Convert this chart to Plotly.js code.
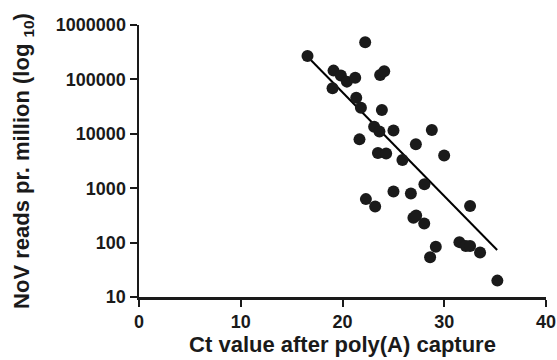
<!DOCTYPE html>
<html>
<head>
<meta charset="utf-8">
<script src="https://cdn.plot.ly/plotly-3.0.1.min.js"></script>
<style>html,body{margin:0;padding:0;background:#fff;}#chart{width:557px;height:360px;}</style>
</head>
<body>
<div id="chart"></div>
<script>
// Ct values after poly(A) capture
const ctValues = [16.56, 22.23, 19.12, 19.84, 20.43, 21.25, 19.02, 23.70, 24.10, 21.35,
  21.81, 23.87, 23.11, 23.63, 25.01, 21.67, 28.78, 27.21, 23.48, 24.29,
  25.89, 29.99, 28.05, 25.01, 26.72, 22.30, 23.21, 32.54, 26.97, 27.24,
  28.03, 29.17, 28.61, 31.49, 32.12, 32.54, 33.52, 35.22];
// NoV reads per million
const readsPerMillion = [270000, 480000, 145000, 118000, 91000, 107000, 69000, 120000, 141000, 46000,
  30000, 27500, 13500, 11000, 11500, 7900, 11700, 6400, 4450, 4350,
  3300, 4000, 1180, 870, 800, 630, 460, 470, 285, 315,
  225, 84, 54, 102, 87, 87, 66, 20];
// regression line end points
const fitX = [16.5, 35.2];
const fitY = [270000, 73];

const xTicks = [0, 10, 20, 30, 40];
const yTicks = [10, 100, 1000, 10000, 100000, 1000000];
const yTickLabels = ['10', '100', '1000', '10000', '100000', '1000000'];

const font = 'Liberation Sans, Arial, sans-serif';

const traces = [
  {x: fitX, y: fitY, mode: 'lines', type: 'scatter',
   line: {color: '#000', width: 2}, hoverinfo: 'skip', showlegend: false},
  {x: ctValues, y: readsPerMillion, mode: 'markers', type: 'scatter',
   marker: {color: '#1a1a1a', size: 12, line: {width: 0}}, showlegend: false}
];

const layout = {
  width: 557, height: 360,
  margin: {l: 139, r: 11, t: 25, b: 63},
  paper_bgcolor: '#fff', plot_bgcolor: '#fff',
  font: {family: font, color: '#1a1a1a'},
  showlegend: false,
  xaxis: {
    range: [0, 40], tickvals: xTicks, ticktext: xTicks.map(String),
    showgrid: false, zeroline: false, showline: true, linecolor: '#1a1a1a', linewidth: 2.5,
    ticks: 'outside', ticklen: 7, tickwidth: 2, tickcolor: '#1a1a1a',
    tickfont: {family: font, size: 18, weight: 'bold', color: '#1a1a1a'},
    title: {text: '<b>Ct value after poly(A) capture</b>', font: {family: font, size: 22, color: '#1a1a1a'}, standoff: 2},
    fixedrange: true
  },
  yaxis: {
    type: 'log', range: [1, 6], tickvals: yTicks, ticktext: yTickLabels,
    showgrid: false, zeroline: false, showline: true, linecolor: '#1a1a1a', linewidth: 2.5,
    ticks: 'outside', ticklen: 7, tickwidth: 2, tickcolor: '#1a1a1a',
    tickfont: {family: font, size: 18, weight: 'bold', color: '#1a1a1a'},
    title: {text: '<b>NoV reads pr. million (log <sub>10</sub>)</b>', font: {family: font, size: 22, color: '#1a1a1a'}, standoff: 20},
    fixedrange: true
  }
};

Plotly.newPlot('chart', traces, layout, {displayModeBar: false, staticPlot: true});
</script>
</body>
</html>
